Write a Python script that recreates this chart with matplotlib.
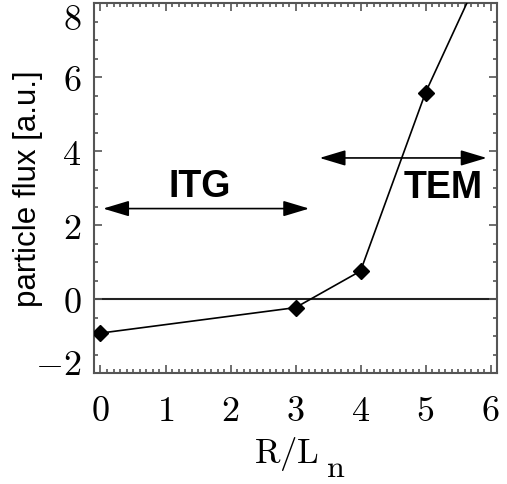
import matplotlib
matplotlib.use('Agg')
import matplotlib.pyplot as plt
from matplotlib.patches import FancyArrowPatch
from matplotlib.ticker import MultipleLocator, FuncFormatter

# data
r_ln = [0, 3, 4, 5, 6]
flux = [-0.92, -0.23, 0.76, 5.59, 9.4]

x_ticks = [0, 1, 2, 3, 4, 5, 6]
y_ticks = [-2, 0, 2, 4, 6, 8]
y_edge_labels = {-2: 8.0, 8: -9.5}   # IDL shifts the end labels inward (pt)

plt.rcParams['mathtext.fontset'] = 'cm'
sans = 'Liberation Sans'
frame_col = '#555555'
tick_fs = 26
ypad = 9

fig = plt.figure(figsize=(5.07, 4.84), dpi=100)
ax = fig.add_axes([0.1854, 0.2293, 0.795, 0.7635])

ax.axhline(0, color='#222222', lw=1.5, zorder=1)
ax.plot(r_ln, flux, color='black', lw=1.2, marker='D', ms=8.5, zorder=3)

ax.set_xlim(-0.1, 6.1)
ax.set_ylim(-2, 8)
ax.set_xticks(x_ticks)
ax.set_yticks(y_ticks)
ax.xaxis.set_minor_locator(MultipleLocator(0.1))
ax.yaxis.set_minor_locator(MultipleLocator(0.5))
ax.xaxis.set_major_formatter(FuncFormatter(lambda v, p: '$%d$' % round(v)))
ax.yaxis.set_major_formatter(FuncFormatter(
    lambda v, p: '' if round(v) in y_edge_labels else '$%d$' % round(v)))

for s in ax.spines.values():
    s.set_color(frame_col)
    s.set_linewidth(1.5)
ax.tick_params(which='both', direction='in', top=True, right=True,
               color=frame_col, width=1.2)
ax.tick_params(which='major', length=5.8)
ax.tick_params(which='minor', length=2.9)
ax.tick_params(axis='x', which='major', labelsize=tick_fs, pad=15)
ax.tick_params(axis='y', which='major', labelsize=tick_fs, pad=ypad)

for v, dy in y_edge_labels.items():
    ax.annotate('$%d$' % v, xy=(0, v), xycoords=('axes fraction', 'data'),
                xytext=(-ypad, dy), textcoords='offset points',
                ha='right', va='center_baseline', fontsize=tick_fs)

ax.set_ylabel('particle flux [a.u.]', family=sans, fontsize=22.5)
ax.yaxis.set_label_coords(-0.127, 0.5)

# x label: "R/L" with a deep IDL-style subscript "n"
ax.set_xlabel(r'$\mathrm{R/L}$', fontsize=25)
ax.xaxis.set_label_coords(0.478, -0.168)
ax.text(0.575, -0.216, r'$\mathrm{n}$', transform=ax.transAxes, fontsize=23,
        ha='left', va='top')

# regime arrows
style = '<|-|>,head_length=16,head_width=4.8'
for (x0, x1, y) in [(0.04, 3.21, 2.45), (3.37, 5.94, 3.82)]:
    arr = FancyArrowPatch((x0, y), (x1, y), arrowstyle=style, mutation_scale=1,
                          color='black', lw=1.2, shrinkA=0, shrinkB=0, zorder=2)
    ax.add_patch(arr)

ax.text(1.53, 3.03, 'ITG', family=sans, weight='bold', fontsize=27,
        ha='center', va='center')
ax.text(5.27, 3.0, 'TEM', family=sans, weight='bold', fontsize=27,
        ha='center', va='center')

fig.savefig('out.png', dpi=100)
